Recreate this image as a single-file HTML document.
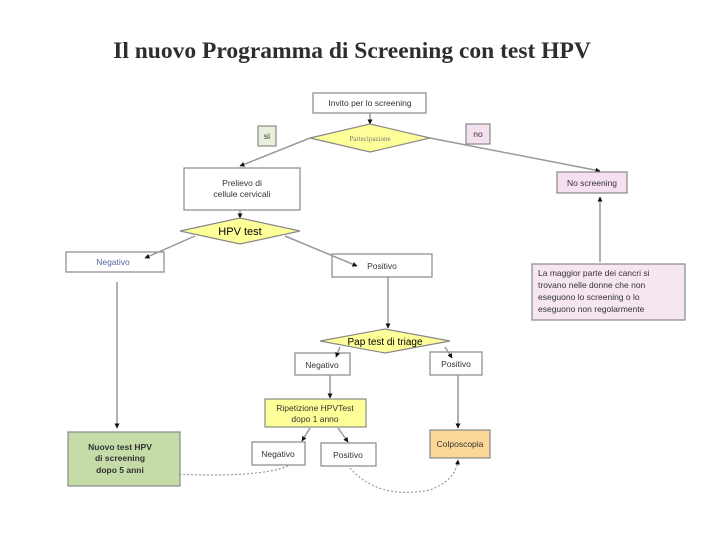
<!DOCTYPE html>
<html><head><meta charset="utf-8"><style>
body{margin:0;background:#fff}
svg{display:block}
text{font-family:"Liberation Sans",sans-serif;fill:#333}
</style></head><body>
<svg width="720" height="540" viewBox="0 0 720 540" xmlns="http://www.w3.org/2000/svg">
<defs>
<marker id="a" markerUnits="userSpaceOnUse" markerWidth="5" markerHeight="5" refX="4.5" refY="2.5" orient="auto"><path d="M0,0 L5,2.5 L0,5 z" fill="#111"/></marker>
</defs>
<text x="352" y="58" text-anchor="middle" style="font-family:'Liberation Serif',serif;font-weight:bold;font-size:23.5px;fill:#2e2e2e">Il nuovo Programma di Screening con  test HPV</text>

<g stroke="#999" stroke-width="1.5" fill="none">
<line x1="370" y1="113" x2="370" y2="124" marker-end="url(#a)"/>
<line x1="310" y1="138" x2="240" y2="166" marker-end="url(#a)"/>
<line x1="430" y1="138" x2="600" y2="171" marker-end="url(#a)"/>
<line x1="240" y1="210" x2="240" y2="218" marker-end="url(#a)"/>
<line x1="117" y1="282" x2="117" y2="428" marker-end="url(#a)"/>
<line x1="388" y1="277" x2="388" y2="328" marker-end="url(#a)"/>
<line x1="330" y1="375" x2="330" y2="398" marker-end="url(#a)"/>
<line x1="310" y1="428" x2="302" y2="441" marker-end="url(#a)"/>
<line x1="338" y1="428" x2="348" y2="442" marker-end="url(#a)"/>
<line x1="458" y1="375" x2="458" y2="428" marker-end="url(#a)"/>
<line x1="600" y1="262" x2="600" y2="197" marker-end="url(#a)"/>
</g>
<g stroke="#999" stroke-width="1.2" fill="none" stroke-dasharray="2,2">
<path d="M288,466 Q260,478 172,474" marker-end="url(#a)"/>
<path d="M350,468 Q378,500 430,490 Q456,480 458,460" marker-end="url(#a)"/>
</g>

<g stroke="#888" stroke-width="1.2">
<rect x="313" y="93" width="113" height="20" fill="#fff"/>
<polygon points="310,138 370,124 430,138 370,152" fill="#ffff99"/>
<rect x="258" y="126" width="18" height="20" fill="#e6f0dc"/>
<rect x="466" y="124" width="24" height="20" fill="#f5e0f0"/>
<rect x="184" y="168" width="116" height="42" fill="#fff"/>
<polygon points="180,231 240,218 300,231 240,244" fill="#ffff99"/>
<rect x="66" y="252" width="98" height="20" fill="#fff"/>
<rect x="332" y="254" width="100" height="23" fill="#fff"/>
<rect x="557" y="172" width="70" height="21" fill="#f5e0f0"/>
<rect x="532" y="264" width="153" height="56" fill="#f5e6f2"/>
<polygon points="320,341 385,329 450,341 385,353" fill="#ffff99"/>
<rect x="295" y="353" width="55" height="22" fill="#fff"/>
<rect x="430" y="352" width="52" height="23" fill="#fff"/>
<rect x="265" y="399" width="101" height="28" fill="#ffff99"/>
<rect x="252" y="442" width="53" height="23" fill="#fff"/>
<rect x="321" y="443" width="55" height="23" fill="#fff"/>
<rect x="430" y="430" width="60" height="28" fill="#fcd898"/>
<rect x="68" y="432" width="112" height="54" fill="#c5dca8"/>
</g>
<g stroke="#999" stroke-width="1.5" fill="none">
<line x1="195" y1="236" x2="145" y2="258" marker-end="url(#a)"/>
<line x1="285" y1="236" x2="357" y2="266" marker-end="url(#a)"/>
<line x1="340" y1="347" x2="336" y2="357" marker-end="url(#a)"/>
<line x1="445" y1="347" x2="452" y2="358" marker-end="url(#a)"/>
</g>

<g font-size="8.5" text-anchor="middle">
<text x="370" y="106">Invito per lo screening</text>
<text x="370" y="141" font-size="7" style="font-family:'Liberation Serif',serif;fill:#777">Partecipazione</text>
<text x="267" y="139">si</text>
<text x="478" y="137">no</text>
<text x="242" y="186">Prelievo di</text>
<text x="242" y="197">cellule cervicali</text>
<text x="240" y="235" font-size="11" style="fill:#000">HPV test</text>
<text x="113" y="265" style="fill:#5566aa">Negativo</text>
<text x="382" y="269">Positivo</text>
<text x="592" y="186">No screening</text>
<text x="385" y="345" font-size="10" style="fill:#000">Pap test di triage</text>
<text x="322" y="368">Negativo</text>
<text x="456" y="367">Positivo</text>
<text x="315" y="411">Ripetizione HPVTest</text>
<text x="315" y="422">dopo 1 anno</text>
<text x="278" y="457">Negativo</text>
<text x="348" y="458">Positivo</text>
<text x="460" y="447">Colposcopia</text>
<g font-weight="bold" style="fill:#223344">
<text x="120" y="450">Nuovo test HPV</text>
<text x="120" y="461">di screening</text>
<text x="120" y="473">dopo  5 anni</text>
</g>
</g>
<g font-size="8.5">
<text x="538" y="276">La maggior parte dei cancri si</text>
<text x="538" y="288">trovano nelle donne che non</text>
<text x="538" y="300">eseguono lo screening o lo</text>
<text x="538" y="312">eseguono non regolarmente</text>
</g>
</svg>
</body></html>
